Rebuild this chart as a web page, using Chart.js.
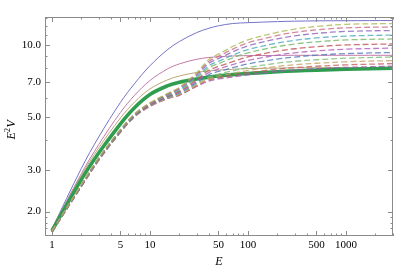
<!DOCTYPE html>
<html>
<head>
<meta charset="utf-8">
<script src="https://cdn.jsdelivr.net/npm/chart.js@4"></script>
<style>
  body { margin: 0; background: #fff; }
  canvas { display: block; }
</style>
</head>
<body>
<canvas id="chart" width="407" height="270"></canvas>
<script>
// energies sampled along the curves
const energies = [1, 2, 3, 5, 7, 10, 15, 20, 30, 40, 50, 70, 100, 200, 300, 500, 1000, 3000];

// solid curves
const solidBlue  = [1.69, 3.04, 4.11, 5.74, 6.90, 8.18, 9.53, 10.34, 11.27, 11.75, 12.03, 12.30, 12.40, 12.53, 12.58, 12.62, 12.64, 12.66];
const solidPink  = [1.69, 2.89, 3.82, 5.21, 6.16, 7.09, 7.92, 8.33, 8.71, 8.86, 8.92, 8.99, 9.02, 9.04, 9.05, 9.05, 9.05, 9.05];
const solidTan   = [1.68, 2.84, 3.70, 4.94, 5.77, 6.54, 7.13, 7.41, 7.67, 7.78, 7.84, 7.91, 7.96, 8.00, 8.02, 8.03, 8.04, 8.05];
const solidGreen = [1.66, 2.73, 3.52, 4.67, 5.47, 6.20, 6.73, 6.98, 7.20, 7.33, 7.41, 7.51, 7.59, 7.72, 7.78, 7.84, 7.91, 7.99];

// dashed curves, top plateau to bottom
const dash1  = [1.66, 2.60, 3.36, 4.42, 5.15, 5.72, 6.25, 6.65, 7.65, 8.70, 9.15, 9.85, 10.50, 11.30, 11.65, 11.95, 12.20, 12.30];
const dash2  = [1.66, 2.60, 3.35, 4.41, 5.14, 5.70, 6.22, 6.60, 7.56, 8.54, 8.96, 9.61, 10.21, 10.96, 11.29, 11.57, 11.80, 11.90];
const dash3  = [1.66, 2.59, 3.34, 4.40, 5.12, 5.68, 6.19, 6.55, 7.47, 8.38, 8.77, 9.36, 9.92, 10.61, 10.92, 11.18, 11.40, 11.50];
const dash4  = [1.65, 2.58, 3.33, 4.38, 5.10, 5.66, 6.16, 6.49, 7.35, 8.18, 8.54, 9.06, 9.56, 10.19, 10.46, 10.70, 10.90, 11.00];
const dash5  = [1.65, 2.58, 3.33, 4.37, 5.09, 5.64, 6.13, 6.45, 7.26, 8.02, 8.35, 8.82, 9.27, 9.84, 10.09, 10.31, 10.50, 10.60];
const dash6  = [1.65, 2.57, 3.32, 4.36, 5.07, 5.61, 6.09, 6.39, 7.15, 7.83, 8.12, 8.51, 8.91, 9.42, 9.64, 9.83, 10.00, 10.10];
const dash7  = [1.65, 2.57, 3.31, 4.34, 5.06, 5.59, 6.06, 6.34, 7.05, 7.67, 7.93, 8.27, 8.62, 9.07, 9.27, 9.44, 9.60, 9.70];
const dash8  = [1.65, 2.56, 3.30, 4.33, 5.04, 5.58, 6.03, 6.29, 6.96, 7.51, 7.74, 8.03, 8.33, 8.73, 8.90, 9.06, 9.20, 9.30];
const dash9  = [1.64, 2.56, 3.29, 4.32, 5.03, 5.56, 6.00, 6.24, 6.87, 7.35, 7.55, 7.79, 8.04, 8.39, 8.54, 8.67, 8.80, 8.90];
const dash10 = [1.64, 2.56, 3.29, 4.31, 5.02, 5.54, 5.98, 6.20, 6.80, 7.23, 7.41, 7.60, 7.82, 8.13, 8.26, 8.38, 8.50, 8.60];
const dash11 = [1.64, 2.55, 3.28, 4.31, 5.01, 5.53, 5.96, 6.17, 6.75, 7.13, 7.29, 7.45, 7.64, 7.92, 8.03, 8.14, 8.25, 8.35];
const dash12 = [1.64, 2.55, 3.28, 4.30, 5.00, 5.52, 5.95, 6.15, 6.70, 7.05, 7.20, 7.33, 7.50, 7.75, 7.85, 7.95, 8.05, 8.15];

// tick labels
const xTickLabels = [1, 5, 10, 50, 100, 500, 1000];
const yTickLabels = [2, 3, 5, 7, 10];
const xMinorTicks = [2, 3, 4, 6, 7, 8, 9, 20, 30, 40, 60, 70, 80, 90, 200, 300, 400, 600, 700, 800, 900, 2000, 3000];
const yMinorTicks = [1.6, 1.7, 1.8, 1.9, 4, 6, 8, 9, 11, 12, 13];

const dashColors = ['#a9b84e', '#cc6b84', '#8c62bd', '#4eaabb', '#70b860', '#c24e4e',
                    '#b25abb', '#5078bd', '#78bc78', '#c4a264', '#c45c64', '#9a5cb2'];

const pts = (arr) => energies.map((e, i) => ({ x: e, y: arr[i] }));

const datasets = [];
[dash1, dash2, dash3, dash4, dash5, dash6, dash7, dash8, dash9, dash10, dash11, dash12].forEach((d, i) => {
    datasets.push({
        data: pts(d),
        borderColor: dashColors[i] + 'cc',
        borderWidth: 1.3,
        borderDash: [6, 3],
        order: 0
    });
});
datasets.push({ data: pts(solidGreen), borderColor: '#2f9d4f', borderWidth: 3.6, order: 1 });
datasets.push({ data: pts(solidTan), borderColor: '#bba878', borderWidth: 1, order: 2 });
datasets.push({ data: pts(solidPink), borderColor: '#c27aa8', borderWidth: 1, order: 2 });
datasets.push({ data: pts(solidBlue), borderColor: '#7474c8', borderWidth: 1, order: 2 });

// frame, inward ticks and axis titles
const framePlugin = {
    id: 'frame',
    afterDraw(chart) {
        const { ctx, chartArea: a, scales } = chart;
        const xs = scales.x, ys = scales.y;
        ctx.save();
        ctx.strokeStyle = '#8a8a8a';
        ctx.lineWidth = 1;
        ctx.strokeRect(a.left + 0.5, a.top + 0.5, a.right - a.left - 1, a.bottom - a.top - 1);
        ctx.beginPath();
        const xt = (v, len) => {
            const px = Math.round(xs.getPixelForValue(v)) + 0.5;
            ctx.moveTo(px, a.bottom); ctx.lineTo(px, a.bottom - len);
            ctx.moveTo(px, a.top); ctx.lineTo(px, a.top + len);
        };
        const yt = (v, len) => {
            const py = Math.round(ys.getPixelForValue(v)) + 0.5;
            ctx.moveTo(a.left, py); ctx.lineTo(a.left + len, py);
            ctx.moveTo(a.right, py); ctx.lineTo(a.right - len, py);
        };
        xTickLabels.forEach(v => xt(v, 5));
        xMinorTicks.forEach(v => xt(v, 2.5));
        yTickLabels.forEach(v => yt(v, 5));
        yMinorTicks.forEach(v => yt(v, 2.5));
        ctx.stroke();

        ctx.fillStyle = '#000';
        ctx.font = 'italic 12px "Liberation Serif"';
        ctx.textAlign = 'center';
        ctx.textBaseline = 'middle';
        ctx.fillText('E', (a.left + a.right) / 2, 262);

        ctx.translate(12, (a.top + a.bottom) / 2 + 2);
        ctx.rotate(-Math.PI / 2);
        ctx.textAlign = 'left';
        ctx.fillText('E', -11, 0);
        ctx.font = '8px "Liberation Serif"';
        ctx.fillText('2', -3.5, -4);
        ctx.font = 'italic 12px "Liberation Serif"';
        ctx.fillText('V', 1, 0);
        ctx.restore();
    }
};

new Chart(document.getElementById('chart'), {
    type: 'line',
    data: { datasets: datasets },
    plugins: [framePlugin],
    options: {
        responsive: false,
        animation: false,
        devicePixelRatio: 1,
        layout: { padding: { top: 17, right: 14, left: 0, bottom: 0 } },
        elements: {
            point: { radius: 0 },
            line: { tension: 0.35, fill: false }
        },
        plugins: { legend: { display: false }, tooltip: { enabled: false } },
        scales: {
            x: {
                type: 'logarithmic',
                min: 0.85,
                max: 3020,
                grid: { display: false, drawTicks: false },
                border: { display: false },
                afterBuildTicks: (s) => { s.ticks = xTickLabels.map(v => ({ value: v })); },
                afterFit: (s) => { s.height = 34; },
                ticks: {
                    autoSkip: false,
                    maxRotation: 0,
                    padding: 3,
                    color: '#000',
                    font: { family: 'Liberation Serif', size: 11 },
                    callback: (v) => String(v)
                }
            },
            y: {
                type: 'logarithmic',
                min: 1.58,
                max: 13.1,
                grid: { display: false, drawTicks: false },
                border: { display: false },
                afterBuildTicks: (s) => { s.ticks = yTickLabels.map(v => ({ value: v })); },
                afterFit: (s) => { s.width = 45; },
                ticks: {
                    autoSkip: false,
                    padding: 4,
                    color: '#000',
                    font: { family: 'Liberation Serif', size: 11 },
                    callback: (v) => Number(v).toFixed(1)
                }
            }
        }
    }
});
</script>
</body>
</html>
